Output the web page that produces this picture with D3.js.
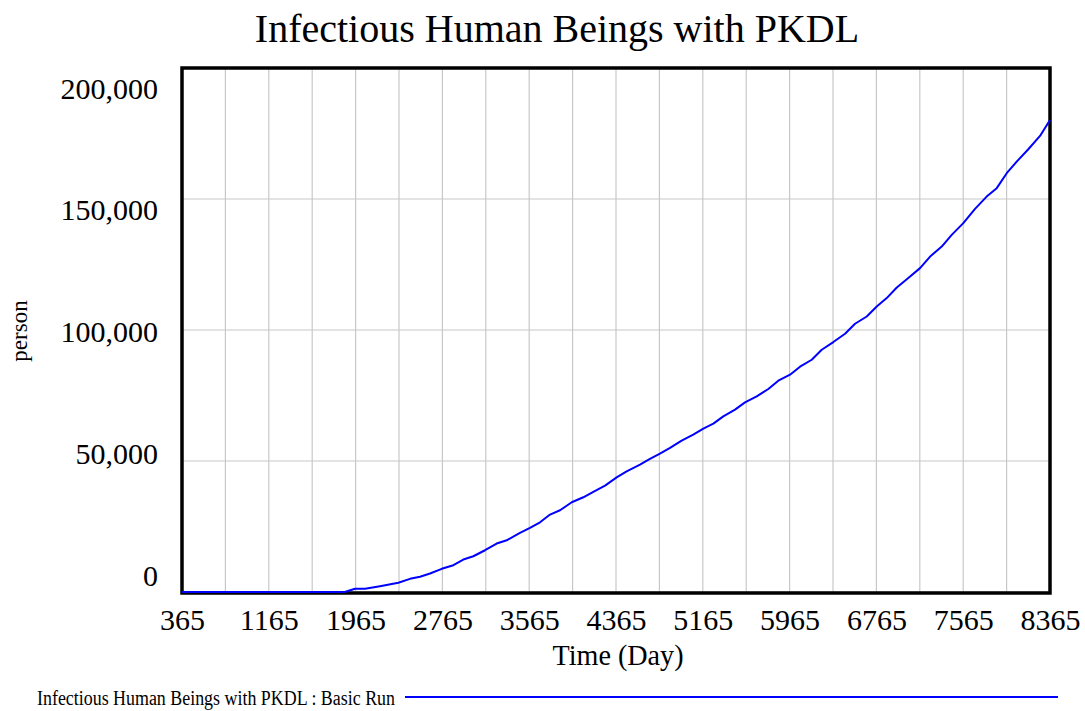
<!DOCTYPE html>
<html><head><meta charset="utf-8">
<script src="https://cdn.jsdelivr.net/npm/d3@7"></script>
<style>
body{margin:0;background:#fff;}
text{font-family:"Liberation Serif","Times New Roman",Times,serif;fill:#000;}
</style>
</head><body>
<svg id="chart" width="1085" height="711"></svg>
<script>
const chartTitle = "Infectious Human Beings with PKDL";
const seriesName = "Infectious Human Beings with PKDL : Basic Run";
const xTitle = "Time (Day)";
const yTitle = "person";

const days = [365, 1065, 1765, 1865, 1960, 2052, 2190, 2359, 2466, 2559, 2651, 2759, 2866, 2958, 3050, 3158, 3265, 3358, 3480, 3572, 3665, 3757, 3849, 3957, 4064, 4156, 4264, 4371, 4463, 4586, 4678, 4770, 4863, 4970, 5077, 5170, 5262, 5354, 5462, 5554, 5662, 5769, 5861, 5969, 6061, 6169, 6261, 6368, 6476, 6568, 6676, 6768, 6860, 6953, 7059, 7167, 7260, 7367, 7459, 7566, 7674, 7781, 7874, 7966, 8058, 8165, 8273, 8365];
const persons = [0, 0, 0, 0, 1220, 1220, 2210, 3510, 5030, 5800, 7050, 8850, 10220, 12390, 13650, 15940, 18490, 19750, 22570, 24480, 26610, 29550, 31190, 34240, 36150, 38210, 40610, 43770, 46060, 48620, 50790, 52810, 54980, 57770, 60060, 62340, 64250, 67030, 69590, 72370, 74660, 77480, 80650, 82930, 85980, 88650, 92470, 95400, 98570, 102380, 105160, 108980, 112180, 116220, 119810, 123620, 128040, 131850, 136310, 140780, 146230, 150920, 154130, 159840, 164270, 168990, 174060, 180170];

const xTickLabels = [365, 1165, 1965, 2765, 3565, 4365, 5165, 5965, 6765, 7565, 8365];
const xGridDays = [365, 765, 1165, 1565, 1965, 2365, 2765, 3165, 3565, 3965, 4365, 4765, 5165, 5565, 5965, 6365, 6765, 7165, 7565, 7965, 8365];
const yTickLabels = [0, 50000, 100000, 150000, 200000];

const L = 182, R = 1050, T = 68, B = 593;
const svg = d3.select("#chart");

const x = d3.scaleLinear().domain([365, 8365]).range([L, R]);
const y = d3.scaleLinear().domain([0, 200000]).range([B - 1, T]);
// Vensim places value labels on a slightly compressed band
const yLab = d3.scaleLinear().domain([0, 200000]).range([575, 88]);

// grid
svg.append("g").selectAll("line.v").data(xGridDays).join("line")
  .attr("x1", d => x(d)).attr("x2", d => x(d)).attr("y1", T).attr("y2", B)
  .attr("stroke", "#c8c8c8").attr("stroke-width", 1.2);
svg.append("g").selectAll("line.h").data(yTickLabels).join("line")
  .attr("x1", L).attr("x2", R).attr("y1", d => y(d)).attr("y2", d => y(d))
  .attr("stroke", "#c8c8c8").attr("stroke-width", 1.2);

// frame
svg.append("rect").attr("x", L).attr("y", T).attr("width", R - L).attr("height", B - T)
  .attr("fill", "none").attr("stroke", "#000").attr("stroke-width", 3.5);

// series line (drawn over the frame, as in the reference)
svg.append("path")
  .datum(days.map((d, i) => [d, persons[i]]))
  .attr("fill", "none").attr("stroke", "#0000ff").attr("stroke-width", 2)
  .attr("stroke-linejoin", "round")
  .attr("d", d3.line().x(d => x(d[0])).y(d => y(d[1])));

// x axis labels
const xAxis = d3.axisBottom(x).tickValues(xTickLabels).tickFormat(d3.format("d")).tickSize(0).tickPadding(0);
const gx = svg.append("g").attr("transform", `translate(0,${B})`).call(xAxis);
gx.select(".domain").remove();
gx.selectAll("text").attr("font-size", 30).attr("dy", null).attr("y", 37)
  .attr("font-family", "Liberation Serif, Times New Roman, serif").attr("fill", "#000");

// y axis labels
const yAxis = d3.axisLeft(yLab).tickValues(yTickLabels).tickFormat(d3.format(",")).tickSize(0).tickPadding(0);
const gy = svg.append("g").attr("transform", `translate(158,0)`).call(yAxis);
gy.select(".domain").remove();
gy.selectAll("text").attr("font-size", 30).attr("dy", "0.34em").attr("x", 0)
  .attr("font-family", "Liberation Serif, Times New Roman, serif").attr("fill", "#000");

// titles
svg.append("text").attr("x", 557).attr("y", 42).attr("text-anchor", "middle")
  .attr("font-size", 40).text(chartTitle);
svg.append("text").attr("x", 618).attr("y", 665).attr("text-anchor", "middle")
  .attr("font-size", 30).attr("textLength", 131).attr("lengthAdjust", "spacingAndGlyphs").text(xTitle);
svg.append("text").attr("transform", "translate(27,331) rotate(-90)").attr("text-anchor", "middle")
  .attr("font-size", 23).text(yTitle);

// legend
svg.append("text").attr("x", 37).attr("y", 705).attr("font-size", 20)
  .attr("textLength", 358).attr("lengthAdjust", "spacingAndGlyphs").text(seriesName);
svg.append("line").attr("x1", 405).attr("x2", 1058).attr("y1", 697).attr("y2", 697)
  .attr("stroke", "#0000ff").attr("stroke-width", 2);
</script>
</body></html>
